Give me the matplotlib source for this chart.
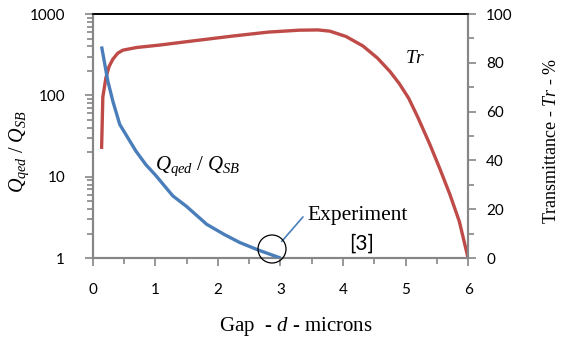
import matplotlib.pyplot as plt
from matplotlib.patches import Ellipse
from matplotlib.ticker import MultipleLocator, LogLocator, NullFormatter

plt.rcParams['mathtext.fontset'] = 'custom'
plt.rcParams['mathtext.rm'] = 'Liberation Serif'
plt.rcParams['mathtext.it'] = 'Liberation Serif:italic'
plt.rcParams['font.family'] = 'Lato'

# Q_qed / Q_SB ratio (left, log axis)
gap_q = [0.14, 0.24, 0.32, 0.43, 0.55, 0.69, 0.85, 1.0, 1.28, 1.5, 1.82, 2.1, 2.35, 2.65, 3.0]
ratio_q = [400, 150, 85, 44, 31, 20.6, 14, 10.5, 5.8, 4.3, 2.6, 1.95, 1.55, 1.25, 1.0]

# Transmittance (right axis, %)
gap_tr = [0.14, 0.16, 0.21, 0.26, 0.32, 0.4, 0.48, 0.7, 1.07, 1.6, 2.24, 2.8, 3.3, 3.6, 3.79,
          4.05, 4.32, 4.55, 4.75, 4.9, 5.05, 5.2, 5.39, 5.55, 5.71, 5.86, 6.0]
trans = [44.7, 66, 74, 78.5, 81.5, 84, 85.2, 86.3, 87.3, 89, 91, 92.6, 93.4, 93.5, 93,
         90.8, 86.9, 82, 76.5, 71.5, 65.5, 57.5, 46.5, 36.5, 26, 15, 0]

blue = '#4A7EBB'
red = '#BE4B48'
grey = '#868686'

fig = plt.figure(figsize=(5.66, 3.52), dpi=100)
ax = fig.add_axes([0.164, 0.267, 0.663, 0.693])
ax2 = ax.twinx()

ax.plot(gap_q, ratio_q, color=blue, lw=2.4, solid_capstyle='butt', zorder=3)
ax2.plot(gap_tr, trans, color=red, lw=2.4, solid_capstyle='butt', solid_joinstyle='round')

ax.set_yscale('log')
ax.set_ylim(1, 1000)
ax.set_xlim(0, 6)
ax2.set_ylim(0, 100)
ax.set_zorder(ax2.get_zorder() + 1)
ax.patch.set_visible(False)

ax.xaxis.set_major_locator(MultipleLocator(1))
ax.xaxis.set_minor_locator(MultipleLocator(0.5))
ax.yaxis.set_minor_locator(LogLocator(base=10, subs=range(2, 10)))
ax.yaxis.set_minor_formatter(NullFormatter())
ax.set_yticks([1, 10, 100, 1000])
ax.set_yticklabels(['1', '10', '100', '1000'])
ax2.yaxis.set_major_locator(MultipleLocator(20))
ax2.yaxis.set_minor_locator(MultipleLocator(10))

for a in (ax, ax2):
    a.tick_params(which='both', direction='out', color=grey, width=1.2, labelsize=11)
    a.tick_params(which='major', length=6)
    a.tick_params(which='minor', length=4)
    for s in a.spines.values():
        s.set_color(grey)
        s.set_linewidth(1.5)
    a.spines['top'].set_color('black')
    a.spines['top'].set_linewidth(1.2)
ax.tick_params(axis='x', pad=12)
ax.tick_params(axis='y', which='major', pad=14)
ax2.tick_params(axis='y', which='major', pad=7)

ax.set_xlabel('Gap  - $\\mathit{d}$ - microns', fontsize=15, family='Liberation Serif')
ax.xaxis.set_label_coords(0.541, -0.235)
ax.set_ylabel('$Q_{qed}\\ /\\ Q_{SB}$', fontsize=14.5)
ax.yaxis.set_label_coords(-0.165, 0.434)
ax2.set_ylabel('Transmittance - $\\mathit{Tr}$ - %', fontsize=13, family='Liberation Serif')
ax2.yaxis.set_label_coords(1.2, 0.48)

ax.text(1.68, 13.5, '$Q_{qed}\\ /\\ Q_{SB}$', fontsize=15, ha='center', va='center')
ax2.text(5.15, 82, '$\\mathit{Tr}$', fontsize=14, ha='center', va='center')

circ = Ellipse((272 / 566, 1 - 249 / 352), 28 / 566, 28 / 352, transform=fig.transFigure,
               fill=False, edgecolor='black', lw=0.9, zorder=5)
fig.patches.append(circ)
ax.annotate('', xy=(3.02, 1.6), xytext=(3.36, 3.2),
            arrowprops=dict(arrowstyle='-', color=blue, lw=1.2, shrinkA=0, shrinkB=0))
ax.text(4.24, 3.37, 'Experiment', fontsize=15.5, family='Liberation Serif', ha='center', va='center')
ax.text(4.3, 1.5, '[3]', fontsize=15, ha='center', va='center')

fig.savefig('out.png', dpi=100)
